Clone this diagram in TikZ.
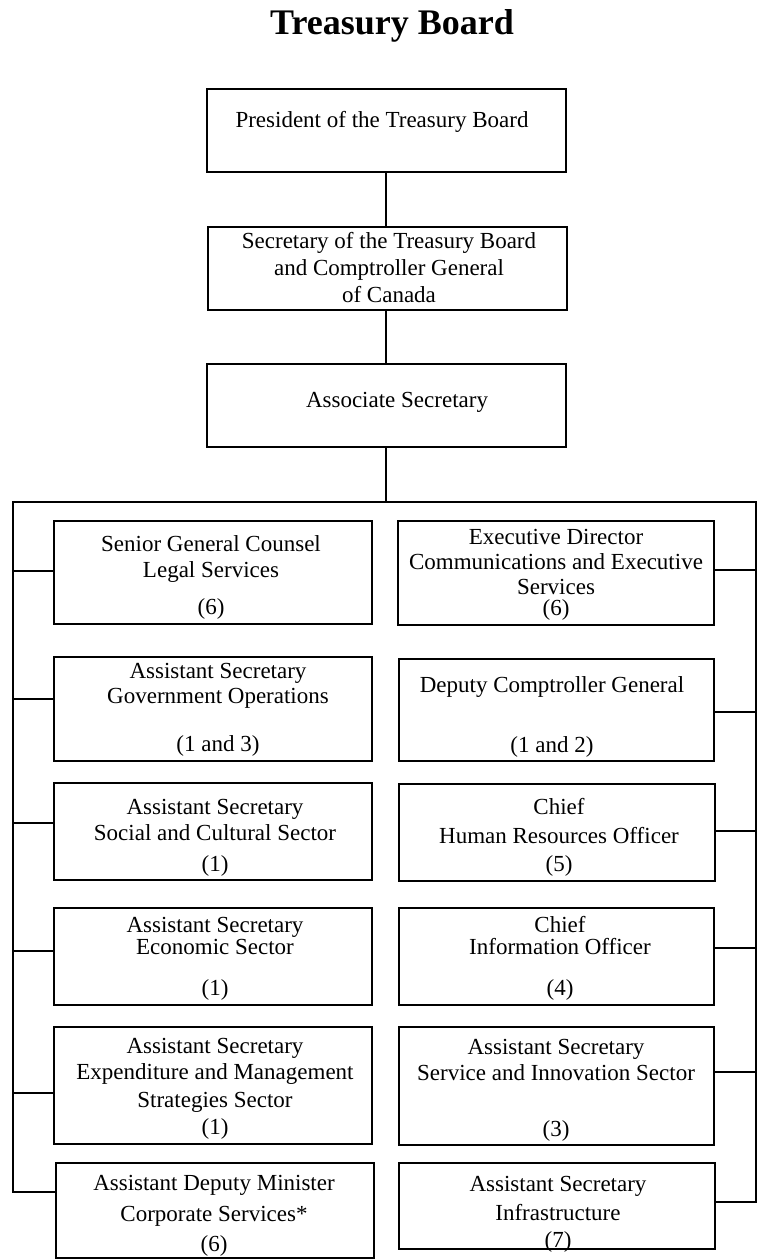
\documentclass[tikz,border=0pt]{standalone}
\usepackage{fontspec}
\setmainfont{Liberation Serif}
\usetikzlibrary{fit}
\begin{document}
\begin{tikzpicture}[x=1pt,y=-1pt,
  box/.style={draw=black, line width=1.2pt, inner sep=0pt, rectangle},
  lbl/.style={anchor=base, inner sep=0pt, font=\fontsize{23}{26}\selectfont},
  ttl/.style={anchor=base, inner sep=0pt, font=\fontsize{36}{40}\selectfont\bfseries},
  conn/.style={draw=black, line width=1.2pt}]
\useasboundingbox (0,0) rectangle (760,1260);
\fill[white] (0,0) rectangle (760,1260);
% title
\node[ttl] (title) at (392,35) {Treasury Board};
% top chain
\node[box, fit={(207,89) (566,172)}] (pres) {};
\node[lbl] (prest) at (382,128) {President of the Treasury Board};
\node[box, fit={(208,227) (567,310)}] (sec) {};
\node[lbl] (sec1) at (389,248) {Secretary of the Treasury Board};
\node[lbl] (sec2) at (389,275) {and Comptroller General};
\node[lbl] (sec3) at (389,302) {of Canada};
\node[box, fit={(207,364) (566,447)}] (assoc) {};
\node[lbl] (assoct) at (397,407) {Associate Secretary};
\coordinate (top) at (386,502);
\coordinate (fl) at (13,502);
\coordinate (fr) at (756,502);
\draw[conn] (pres.south -| top) -- (sec.north -| top);
\draw[conn] (sec.south -| top) -- (assoc.north -| top);
\draw[conn] (assoc.south -| top) -- (top);
% left column
\node[box, fit={(54,521) (372,624)}] (L1) {};
\node[lbl] (L1a) at (211,551) {Senior General Counsel};
\node[lbl] (L1b) at (211,577) {Legal Services};
\node[lbl] (L1c) at (211,614) {(6)};
\node[box, fit={(54,657) (372,761)}] (L2) {};
\node[lbl] (L2a) at (218,678) {Assistant Secretary};
\node[lbl] (L2b) at (218,703) {Government Operations};
\node[lbl] (L2c) at (218,751) {(1 and 3)};
\node[box, fit={(54,783) (372,880)}] (L3) {};
\node[lbl] (L3a) at (215,814) {Assistant Secretary};
\node[lbl] (L3b) at (215,840) {Social and Cultural Sector};
\node[lbl] (L3c) at (215,871) {(1)};
\node[box, fit={(54,908) (372,1005)}] (L4) {};
\node[lbl] (L4a) at (215,932) {Assistant Secretary};
\node[lbl] (L4b) at (215,954) {Economic Sector};
\node[lbl] (L4c) at (215,995) {(1)};
\node[box, fit={(54,1027) (372,1144)}] (L5) {};
\node[lbl] (L5a) at (215,1053) {Assistant Secretary};
\node[lbl] (L5b) at (215,1079) {Expenditure and Management};
\node[lbl] (L5c) at (215,1107) {Strategies Sector};
\node[lbl] (L5d) at (215,1134) {(1)};
\node[box, fit={(56,1163) (374,1258)}] (L6) {};
\node[lbl] (L6a) at (214,1190) {Assistant Deputy Minister};
\node[lbl] (L6b) at (214,1221) {Corporate Services*};
\node[lbl] (L6c) at (214,1251) {(6)};
% right column
\node[box, fit={(398,521) (714,625)}] (R1) {};
\node[lbl] (R1a) at (556,544) {Executive Director};
\node[lbl] (R1b) at (556,569) {Communications and Executive};
\node[lbl] (R1c) at (556,594) {Services};
\node[lbl] (R1d) at (556,615) {(6)};
\node[box, fit={(399,659) (714,761)}] (R2) {};
\node[lbl] (R2a) at (552,692) {Deputy Comptroller General};
\node[lbl] (R2b) at (552,752) {(1 and 2)};
\node[box, fit={(399,784) (715,881)}] (R3) {};
\node[lbl] (R3a) at (559,814) {Chief};
\node[lbl] (R3b) at (559,843) {Human Resources Officer};
\node[lbl] (R3c) at (559,871) {(5)};
\node[box, fit={(399,908) (714,1005)}] (R4) {};
\node[lbl] (R4a) at (560,932) {Chief};
\node[lbl] (R4b) at (560,954) {Information Officer};
\node[lbl] (R4c) at (560,995) {(4)};
\node[box, fit={(399,1027) (714,1145)}] (R5) {};
\node[lbl] (R5a) at (556,1054) {Assistant Secretary};
\node[lbl] (R5b) at (556,1080) {Service and Innovation Sector};
\node[lbl] (R5c) at (556,1136) {(3)};
\node[box, fit={(399,1163) (715,1249)}] (R6) {};
\node[lbl] (R6a) at (558,1191) {Assistant Secretary};
\node[lbl] (R6b) at (558,1220) {Infrastructure};
\node[lbl] (R6c) at (558,1247) {(7)};
% frame spine
\coordinate (l1) at (13,571);
\coordinate (l2) at (13,699);
\coordinate (l3) at (13,823);
\coordinate (l4) at (13,951);
\coordinate (l5) at (13,1093);
\coordinate (l6) at (13,1192);
\coordinate (r1) at (756,570);
\coordinate (r2) at (756,712);
\coordinate (r3) at (756,831);
\coordinate (r4) at (756,948);
\coordinate (r5) at (756,1072);
\coordinate (r6) at (756,1202);
\draw[conn] (l6 -| L6.west) -- (l6) -- (fl) -- (fr) -- (r6) -- (r6 -| R6.east);
\draw[conn] (l1) -- (l1 -| L1.west);
\draw[conn] (l2) -- (l2 -| L2.west);
\draw[conn] (l3) -- (l3 -| L3.west);
\draw[conn] (l4) -- (l4 -| L4.west);
\draw[conn] (l5) -- (l5 -| L5.west);
\draw[conn] (r1) -- (r1 -| R1.east);
\draw[conn] (r2) -- (r2 -| R2.east);
\draw[conn] (r3) -- (r3 -| R3.east);
\draw[conn] (r4) -- (r4 -| R4.east);
\draw[conn] (r5) -- (r5 -| R5.east);
\end{tikzpicture}
\end{document}
